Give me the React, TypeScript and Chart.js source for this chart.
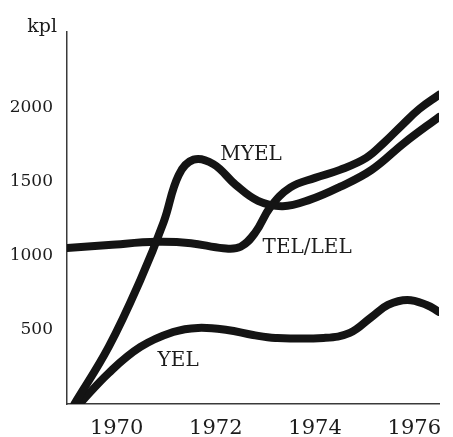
import React, { useEffect, useRef } from 'react';
import { Chart, registerables } from 'chart.js';

Chart.register(...registerables);

// ---- data ----
const myelYears = [1969.15, 1969.84, 1970.48, 1970.95, 1971.25, 1971.55, 1971.95, 1972.4, 1972.85, 1973.35, 1973.9, 1974.5, 1975.14, 1975.8, 1976.5];
const myelValues = [0, 385, 838, 1230, 1545, 1650, 1620, 1480, 1372, 1336, 1380, 1466, 1581, 1764, 1939];

const telYears = [1969.0, 1969.84, 1970.81, 1971.5, 1972.15, 1972.5, 1972.8, 1973.1, 1973.5, 1974.0, 1974.5, 1975.03, 1975.4, 1975.75, 1976.1, 1976.5];
const telValues = [1054, 1074, 1095, 1086, 1052, 1062, 1160, 1330, 1462, 1527, 1581, 1662, 1768, 1882, 1992, 2088];

const yelYears = [1969.25, 1969.84, 1970.48, 1971.14, 1971.64, 1972.23, 1972.75, 1973.2, 1974.17, 1974.7, 1975.14, 1975.47, 1975.86, 1976.25, 1976.5];
const yelValues = [0, 209, 385, 486, 514, 500, 466, 446, 446, 480, 588, 669, 703, 669, 622];

const xTicks = [1970, 1972, 1974, 1976];
const yTicks = [500, 1000, 1500, 2000];
const yUnit = 'kpl';

const labelNames = ['MYEL', 'TEL/LEL', 'YEL'];
const labelYears = [1972.71, 1973.84, 1971.24];
const labelValues = [1682, 1054, 290];

const toPoints = (xs: number[], ys: number[]) => xs.map((x, i) => ({ x, y: ys[i] }));

const SERIF = '"DejaVu Serif", "Liberation Serif", serif';
const INK = '#141414';

const textPlugin = {
  id: 'seriesText',
  afterDatasetsDraw(chart: any) {
    const { ctx, scales, chartArea } = chart;
    const xs = scales.x;
    const ys = scales.y;
    ctx.save();
    ctx.fillStyle = '#1c1c1c';
    ctx.font = `20px ${SERIF}`;
    ctx.textAlign = 'center';
    ctx.textBaseline = 'middle';
    labelNames.forEach((n, i) => {
      ctx.fillText(n, xs.getPixelForValue(labelYears[i]), ys.getPixelForValue(labelValues[i]));
    });
    ctx.font = `19px ${SERIF}`;
    ctx.textAlign = 'right';
    ctx.textBaseline = 'alphabetic';
    ctx.fillText(yUnit, chartArea.left - 10, chartArea.top);
    ctx.restore();
  },
};

export default function App() {
  const ref = useRef<HTMLCanvasElement | null>(null);

  useEffect(() => {
    if (!ref.current) return;
    const lineDs = (label: string, xs: number[], ys: number[]) => ({
      label,
      data: toPoints(xs, ys),
      borderColor: INK,
      backgroundColor: INK,
      borderWidth: 8,
      borderCapStyle: 'round' as const,
      borderJoinStyle: 'round' as const,
      pointRadius: 0,
      tension: 0.4,
      fill: false,
    });
    const chart = new Chart(ref.current, {
      type: 'line',
      data: {
        datasets: [
          lineDs('MYEL', myelYears, myelValues),
          lineDs('TEL/LEL', telYears, telValues),
          lineDs('YEL', yelYears, yelValues),
        ],
      },
      options: {
        animation: false,
        responsive: false,
        maintainAspectRatio: false,
        layout: { padding: { left: 0, right: 0, top: 32, bottom: 0 } },
        plugins: {
          legend: { display: false },
          tooltip: { enabled: false },
        },
        scales: {
          x: {
            type: 'linear',
            min: 1969,
            max: 1976.5,
            afterBuildTicks: (s: any) => {
              s.ticks = xTicks.map((v) => ({ value: v }));
            },
            afterFit: (s: any) => {
              s.height = 33;
            },
            grid: { display: false, drawTicks: false },
            border: { display: true, color: '#3a3a3a', width: 1.5 },
            ticks: {
              padding: 12,
              color: '#1c1c1c',
              font: { family: SERIF, size: 21 },
              maxRotation: 0,
              autoSkip: false,
              callback: (v: any) => String(v),
            },
          },
          y: {
            type: 'linear',
            min: 0,
            max: 2512,
            afterBuildTicks: (s: any) => {
              s.ticks = yTicks.map((v) => ({ value: v }));
            },
            afterFit: (s: any) => {
              s.width = 67;
            },
            grid: { display: false, drawTicks: false },
            border: { display: true, color: '#3a3a3a', width: 1.5 },
            ticks: {
              padding: 14,
              color: '#1c1c1c',
              font: { family: SERIF, size: 17 },
              autoSkip: false,
              callback: (v: any) => String(v),
            },
          },
        },
      },
      plugins: [textPlugin],
    });
    return () => chart.destroy();
  }, []);

  return (
    <canvas
      ref={ref}
      width={453}
      height={437}
      style={{ position: 'absolute', left: 0, top: 0, width: 453, height: 437, display: 'block' }}
    />
  );
}
